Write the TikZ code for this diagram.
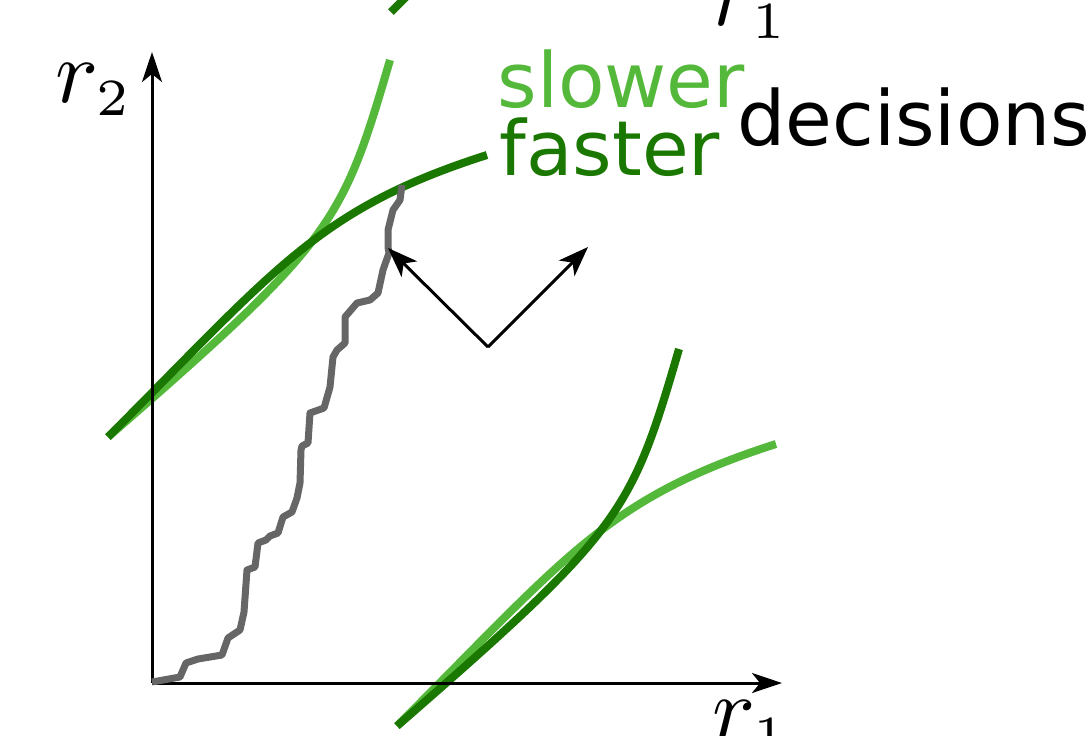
\documentclass[tikz,border=0pt]{standalone}
\usepackage{fontspec}
\newfontfamily\dejavu{DejaVu Sans}
\usetikzlibrary{arrows.meta}
\definecolor{lgreen}{RGB}{84,184,58}
\definecolor{dgreen}{RGB}{26,120,0}
\definecolor{pathgray}{RGB}{102,102,102}
\newcommand{\subtwo}[1]{\mbox{\fontsize{5.8}{6}\selectfont #1}}
\begin{document}
\begin{tikzpicture}[x=0.5pt,y=-0.5pt,
  curve/.style={line width=4pt, line cap=butt},
  axis/.style={line width=1.5pt, -{Stealth[length=15pt,width=10pt,inset=4pt]}},
  vec/.style={line width=1.5pt, -{Stealth[length=15pt,width=11pt,inset=4pt]}},
  lbl/.style={inner sep=0pt, anchor=base west},
  word/.style={lbl, font=\dejavu\fontsize{38}{46}\selectfont},
  mathlbl/.style={lbl, scale=4.5}]
\useasboundingbox (0,0) rectangle (1087,735);
\clip (0,0) rectangle (1087,735);

% upper pair
\draw[curve, lgreen] (108,437) .. controls (333,241) and (342,225) .. (390,60);
\draw[curve, dgreen] (108,437) .. controls (277,268) and (318,209) .. (487,155);
% lower pair (same curves, shifted, colours swapped)
\begin{scope}[shift={(289,289)}]
\draw[curve, lgreen] (108,437) .. controls (277,268) and (318,209) .. (487,155);
\draw[curve, dgreen] (108,437) .. controls (333,241) and (342,225) .. (390,60);
\end{scope}
% piece of a curve cut by the top edge
\draw[curve, dgreen] (391,12) -- (412,-9);

% axes
\coordinate (O) at (152,683);
\coordinate (Y) at (152,52);
\coordinate (X) at (782,683);
\draw[axis] (O) -- (Y);
\draw[axis] (O) -- (X);

% gray trajectory
\draw[pathgray, line width=3.5pt, line join=round] plot coordinates {(152,682) (180,677) (186,663) (198,659) (222,655) (228,638) (240,630) (244,612) (247,570) (255,567) (258,543) (266,540) (270,536) (278,533) (283,517) (292,512) (297,498) (300,483) (301,450) (302,446) (308,443) (310,413) (324,408) (330,387) (333,357) (337,350) (345,343) (345,317) (357,303) (370,300) (378,293) (383,270) (389,253) (388,247) (388,230) (393,210) (400,200) (402,185)};

% direction arrows
\coordinate (v) at (488,347);
\coordinate (tl) at (388,248);
\coordinate (tr) at (588,247);
\draw[vec] (v) -- (tl);
\draw[vec] (v) -- (tr);

% labels
\node[mathlbl] (r2) at (54,102) {$r_{\subtwo{2}}$};
\node[mathlbl] (r1top) at (710,25) {$r_{\subtwo{1}}$};
\node[mathlbl] (r1bot) at (711,739) {$r_{\subtwo{1}}$};
\node[word, text=lgreen] (slow) at (497,107) {slower};
\node[word, text=dgreen] (fast) at (499,175) {faster};
\node[word, text=black] (dec) at (737,145) {decisions};
\end{tikzpicture}
\end{document}
